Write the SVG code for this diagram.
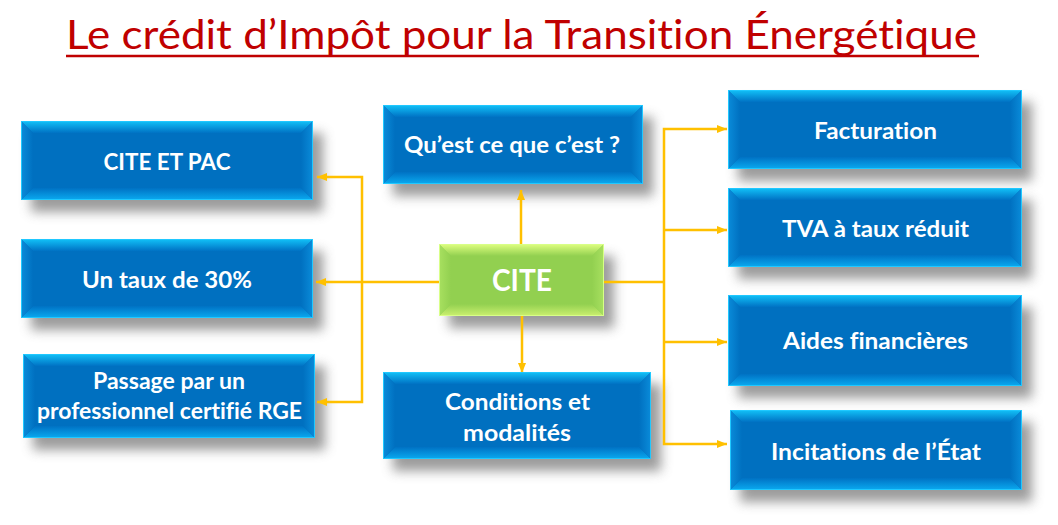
<svg xmlns="http://www.w3.org/2000/svg" width="1058" height="525" viewBox="0 0 1058 525">
<defs>
<linearGradient id="bTop" x1="0" y1="0" x2="0" y2="1"><stop offset="0" stop-color="#12C2F8"/><stop offset="1" stop-color="#0072C4"/></linearGradient>
<linearGradient id="bBot" x1="0" y1="0" x2="0" y2="1"><stop offset="0" stop-color="#0072C4"/><stop offset="1" stop-color="#0AAAF0"/></linearGradient>
<linearGradient id="bLeft" x1="0" y1="0" x2="1" y2="0"><stop offset="0" stop-color="#0A8CDA"/><stop offset="1" stop-color="#0070C0"/></linearGradient>
<linearGradient id="bRight" x1="0" y1="0" x2="1" y2="0"><stop offset="0" stop-color="#0070C0"/><stop offset="1" stop-color="#0A8CDA"/></linearGradient>
<linearGradient id="gTop" x1="0" y1="0" x2="0" y2="1"><stop offset="0" stop-color="#E0FF80"/><stop offset="1" stop-color="#92D050"/></linearGradient>
<linearGradient id="gBot" x1="0" y1="0" x2="0" y2="1"><stop offset="0" stop-color="#92D050"/><stop offset="1" stop-color="#CCF070"/></linearGradient>
<linearGradient id="gLeft" x1="0" y1="0" x2="1" y2="0"><stop offset="0" stop-color="#A8E060"/><stop offset="1" stop-color="#92D050"/></linearGradient>
<linearGradient id="gRight" x1="0" y1="0" x2="1" y2="0"><stop offset="0" stop-color="#92D050"/><stop offset="1" stop-color="#A8E060"/></linearGradient>
<filter id="blur" x="-20%" y="-30%" width="140%" height="160%"><feGaussianBlur stdDeviation="6"/></filter>
<marker id="arr" viewBox="0 0 10 8" refX="10" refY="4" markerWidth="10" markerHeight="8" markerUnits="userSpaceOnUse" orient="auto"><path d="M0,0L10,4L0,8Z" fill="#FFC000"/></marker>
</defs>
<style>
text{font-variant-ligatures:none;font-feature-settings:"liga" 0,"clig" 0}
.title{font-family:Lato,"Liberation Sans",sans-serif;font-size:41px;fill:#C00000}
.lbl{font-family:Lato,"Liberation Sans",sans-serif;font-weight:bold;font-size:23px;fill:#FFFFFF;text-anchor:middle}
.big{font-size:30px}
.sh{fill:#7A7A7A;opacity:0.75;filter:url(#blur)}
.base{fill:#0070C0}
.gbase{fill:#92D050}
.t{fill:url(#bTop)}.b{fill:url(#bBot)}.l{fill:url(#bLeft)}.r{fill:url(#bRight)}
.gt{fill:url(#gTop)}.gb{fill:url(#gBot)}.gl{fill:url(#gLeft)}.gr{fill:url(#gRight)}
.edge{fill:none;stroke:#20C8FF;stroke-width:1}
.gedge{fill:none;stroke:#D8FF88;stroke-width:1}
.con{fill:none;stroke:#FFC000;stroke-width:2.5}
</style>
<rect width="1058" height="525" fill="#FFFFFF"/>
<g id="title">
<text class="title" x="66" y="49" textLength="911" lengthAdjust="spacingAndGlyphs">Le crédit d’Impôt pour la Transition Énergétique</text>
<line x1="66" y1="56" x2="979" y2="56" stroke="#C00000" stroke-width="2.5"/>
</g>
<g id="shadows">
<rect class="sh" x="31" y="133" width="292" height="79"/>
<rect class="sh" x="31" y="251" width="292" height="79"/>
<rect class="sh" x="33" y="366" width="292" height="84"/>
<rect class="sh" x="393" y="117" width="260" height="79"/>
<rect class="sh" x="449" y="256" width="165" height="72"/>
<rect class="sh" x="393" y="384" width="268" height="87"/>
<rect class="sh" x="738" y="102" width="294" height="79"/>
<rect class="sh" x="738" y="200" width="294" height="79"/>
<rect class="sh" x="738" y="307" width="294" height="91"/>
<rect class="sh" x="740" y="422" width="292" height="80"/>
</g>
<g id="connectors">
<path class="con" d="M439,282H316" marker-end="url(#arr)"/>
<path class="con" d="M362,282V177H317" marker-end="url(#arr)"/>
<path class="con" d="M362,282V402H317" marker-end="url(#arr)"/>
<path class="con" d="M521,244V190" marker-end="url(#arr)"/>
<path class="con" d="M522,316V373" marker-end="url(#arr)"/>
<path class="con" d="M604,282H664"/>
<path class="con" d="M664,282V129H727" marker-end="url(#arr)"/>
<path class="con" d="M664,230H727" marker-end="url(#arr)"/>
<path class="con" d="M664,282V444H727" marker-end="url(#arr)"/>
<path class="con" d="M664,342H727" marker-end="url(#arr)"/>
</g>
<g id="n-cite-pac">
<rect class="base" x="21" y="121" width="292" height="79"/>
<path class="t" d="M21,121H313L301,133H33Z"/><path class="b" d="M21,200H313L301,188H33Z"/>
<path class="l" d="M21,121L33,133V188L21,200Z"/><path class="r" d="M313,121L301,133V188L313,200Z"/>
<rect class="edge" x="21.5" y="121.5" width="291" height="78"/>
<text class="lbl" x="167" y="170" textLength="127" lengthAdjust="spacingAndGlyphs">CITE ET PAC</text>
</g>
<g id="n-taux">
<rect class="base" x="21" y="239" width="292" height="79"/>
<path class="t" d="M21,239H313L301,251H33Z"/><path class="b" d="M21,318H313L301,306H33Z"/>
<path class="l" d="M21,239L33,251V306L21,318Z"/><path class="r" d="M313,239L301,251V306L313,318Z"/>
<rect class="edge" x="21.5" y="239.5" width="291" height="78"/>
<text class="lbl" x="167" y="288" textLength="170" lengthAdjust="spacingAndGlyphs">Un taux de 30%</text>
</g>
<g id="n-rge">
<rect class="base" x="23" y="354" width="292" height="84"/>
<path class="t" d="M23,354H315L303,366H35Z"/><path class="b" d="M23,438H315L303,426H35Z"/>
<path class="l" d="M23,354L35,366V426L23,438Z"/><path class="r" d="M315,354L303,366V426L315,438Z"/>
<rect class="edge" x="23.5" y="354.5" width="291" height="83"/>
<text class="lbl" x="169" y="389" textLength="152" lengthAdjust="spacingAndGlyphs">Passage par un</text>
<text class="lbl" x="169.5" y="419" textLength="265" lengthAdjust="spacingAndGlyphs">professionnel certifié RGE</text>
</g>
<g id="n-quest">
<rect class="base" x="383" y="105" width="260" height="79"/>
<path class="t" d="M383,105H643L631,117H395Z"/><path class="b" d="M383,184H643L631,172H395Z"/>
<path class="l" d="M383,105L395,117V172L383,184Z"/><path class="r" d="M643,105L631,117V172L643,184Z"/>
<rect class="edge" x="383.5" y="105.5" width="259" height="78"/>
<text class="lbl" x="512" y="153" textLength="216" lengthAdjust="spacingAndGlyphs">Qu’est ce que c’est ?</text>
</g>
<g id="n-cite">
<rect class="gbase" x="439" y="244" width="165" height="72"/>
<path class="gt" d="M439,244H604L592,256H451Z"/><path class="gb" d="M439,316H604L592,304H451Z"/>
<path class="gl" d="M439,244L451,256V304L439,316Z"/><path class="gr" d="M604,244L592,256V304L604,316Z"/>
<rect class="gedge" x="439.5" y="244.5" width="164" height="71"/>
<text class="lbl big" x="522" y="291" textLength="60" lengthAdjust="spacingAndGlyphs">CITE</text>
</g>
<g id="n-conditions">
<rect class="base" x="383" y="372" width="268" height="87"/>
<path class="t" d="M383,372H651L639,384H395Z"/><path class="b" d="M383,459H651L639,447H395Z"/>
<path class="l" d="M383,372L395,384V447L383,459Z"/><path class="r" d="M651,372L639,384V447L651,459Z"/>
<rect class="edge" x="383.5" y="372.5" width="267" height="86"/>
<text class="lbl" x="517.5" y="410" textLength="145" lengthAdjust="spacingAndGlyphs">Conditions et</text>
<text class="lbl" x="517" y="441" textLength="108" lengthAdjust="spacingAndGlyphs">modalités</text>
</g>
<g id="n-facturation">
<rect class="base" x="728" y="90" width="294" height="79"/>
<path class="t" d="M728,90H1022L1010,102H740Z"/><path class="b" d="M728,169H1022L1010,157H740Z"/>
<path class="l" d="M728,90L740,102V157L728,169Z"/><path class="r" d="M1022,90L1010,102V157L1022,169Z"/>
<rect class="edge" x="728.5" y="90.5" width="293" height="78"/>
<text class="lbl" x="875.5" y="139" textLength="123" lengthAdjust="spacingAndGlyphs">Facturation</text>
</g>
<g id="n-tva">
<rect class="base" x="728" y="188" width="294" height="79"/>
<path class="t" d="M728,188H1022L1010,200H740Z"/><path class="b" d="M728,267H1022L1010,255H740Z"/>
<path class="l" d="M728,188L740,200V255L728,267Z"/><path class="r" d="M1022,188L1010,200V255L1022,267Z"/>
<rect class="edge" x="728.5" y="188.5" width="293" height="78"/>
<text class="lbl" x="875.5" y="237" textLength="187" lengthAdjust="spacingAndGlyphs">TVA à taux réduit</text>
</g>
<g id="n-aides">
<rect class="base" x="728" y="295" width="294" height="91"/>
<path class="t" d="M728,295H1022L1010,307H740Z"/><path class="b" d="M728,386H1022L1010,374H740Z"/>
<path class="l" d="M728,295L740,307V374L728,386Z"/><path class="r" d="M1022,295L1010,307V374L1022,386Z"/>
<rect class="edge" x="728.5" y="295.5" width="293" height="90"/>
<text class="lbl" x="875.5" y="349" textLength="185" lengthAdjust="spacingAndGlyphs">Aides financières</text>
</g>
<g id="n-incitations">
<rect class="base" x="730" y="410" width="292" height="80"/>
<path class="t" d="M730,410H1022L1010,422H742Z"/><path class="b" d="M730,490H1022L1010,478H742Z"/>
<path class="l" d="M730,410L742,422V478L730,490Z"/><path class="r" d="M1022,410L1010,422V478L1022,490Z"/>
<rect class="edge" x="730.5" y="410.5" width="291" height="79"/>
<text class="lbl" x="876" y="460" textLength="210" lengthAdjust="spacingAndGlyphs">Incitations de l’État</text>
</g>
</svg>
